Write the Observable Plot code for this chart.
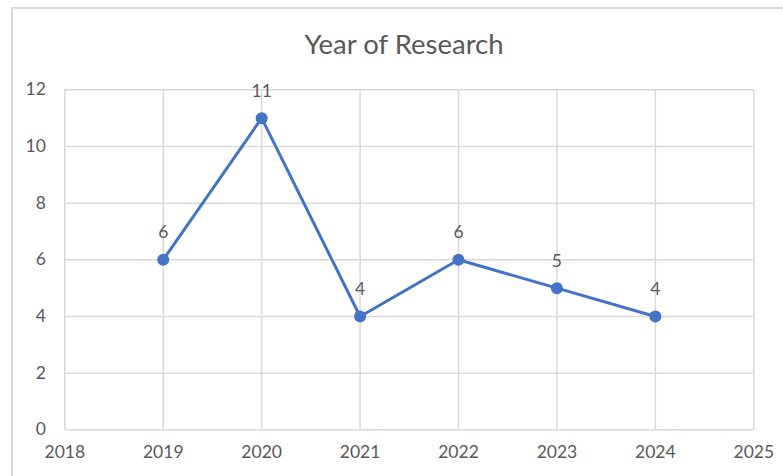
<!DOCTYPE html>
<html><head><meta charset="utf-8">
<script src="https://cdn.jsdelivr.net/npm/d3@7"></script>
<script src="https://cdn.jsdelivr.net/npm/@observablehq/plot@0.6"></script>
<style>
html,body{margin:0;padding:0;background:#fff;overflow:hidden;width:783px;height:476px;}
#wrap{position:relative;width:783px;height:476px;}
#frame{position:absolute;left:11px;top:7px;width:800px;height:520px;border:2px solid #d9d9d9;box-sizing:border-box;pointer-events:none;}
#title{position:absolute;left:0;top:28px;width:808px;text-align:center;font-family:Lato,sans-serif;font-size:27.5px;line-height:32px;color:#595959;}
#chart{position:absolute;left:0;top:70px;}
</style></head>
<body><div id="wrap"><div id="frame"></div><div id="title">Year of Research</div><div id="chart"></div></div>
<script>
const years = [2019, 2020, 2021, 2022, 2023, 2024];
const counts = [6, 11, 4, 6, 5, 4];
const xTicks = [2018, 2019, 2020, 2021, 2022, 2023, 2024, 2025];
const yTicks = [0, 2, 4, 6, 8, 10, 12];
const data = years.map((y, i) => ({year: y, count: counts[i]}));
const chart = Plot.plot({
  width: 783, height: 406,
  marginLeft: 64.3, marginRight: 29.7, marginTop: 19.3, marginBottom: 46.7,
  style: {fontFamily: "Lato, sans-serif", fontSize: "17.5px", color: "#595959", background: "transparent"},
  x: {domain: [2018, 2025], ticks: xTicks, tickFormat: d => String(d), label: null, tickSize: 0, tickPadding: 16},
  y: {domain: [0, 12], ticks: yTicks, label: null, tickSize: 0, tickPadding: 19},
  marks: [
    Plot.gridX(xTicks, {stroke: "#d9d9d9", strokeOpacity: 1, strokeWidth: 1.5}),
    Plot.gridY(yTicks, {stroke: "#d9d9d9", strokeOpacity: 1, strokeWidth: 1.5}),
    Plot.axisX({ticks: xTicks, tickFormat: d => String(d), tickSize: 0, tickPadding: 16, fill: "#595959"}),
    Plot.axisY({ticks: yTicks, tickSize: 0, tickPadding: 19, fill: "#595959"}),
    Plot.line(data, {x: "year", y: "count", stroke: "#4472C4", strokeWidth: 3}),
    Plot.dot(data, {x: "year", y: "count", fill: "#4472C4", r: 6}),
    Plot.text(data, {x: "year", y: "count", text: d => String(d.count), dy: -27, fill: "#595959", fontSize: 17.5})
  ]
});
document.getElementById("chart").appendChild(chart);
</script></body></html>
